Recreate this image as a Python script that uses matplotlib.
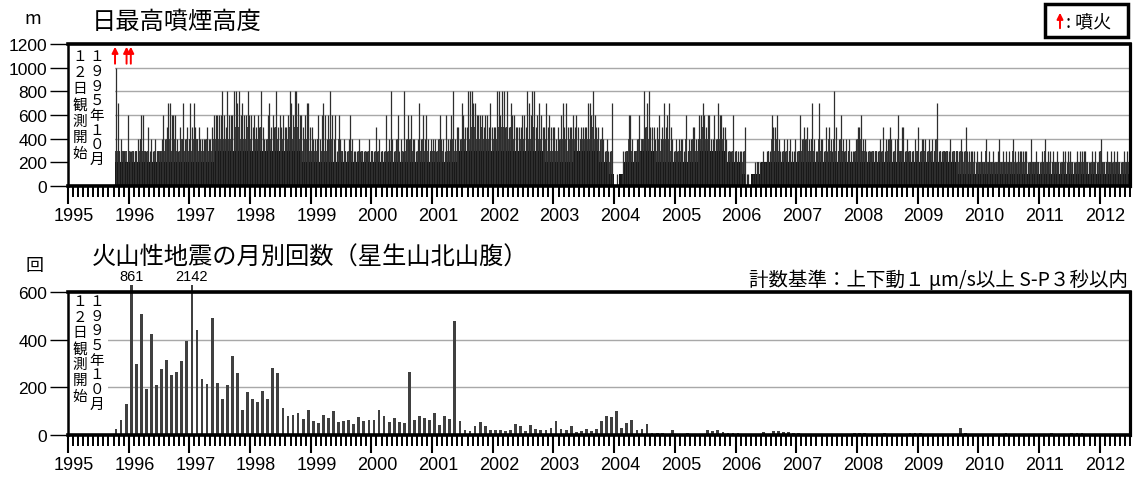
import numpy as np
import matplotlib
matplotlib.use('Agg')
import matplotlib.pyplot as plt
from matplotlib.patches import Rectangle, FancyArrowPatch
import matplotlib.transforms as mtransforms

plt.rcParams['font.family'] = ['Noto Sans CJK JP', 'DejaVu Sans']

# ---------------- data ----------------
first_year, first_month = 1995, 10          # observation start month
obs_start = 1995.78                         # 1995-10-12
eruptions = [1995.775, 1995.965, 1996.035]  # red arrows
years = list(range(1995, 2013))

# daily max plume height: highest value in each 10-day period (hex digit = x100 m), 3 per month
plume_peak = [
    "0a7 343 326",
    "333 334 466 335 343 433 346 457 766 643 547 454",
    "757 545 444 454 456 666 686 586 668 878 676 686",
    "656 565 854 467 565 856 565 568 768 876 656 775",
    "544 464 676 468 646 364 343 346 433 343 333 343",
    "335 343 336 348 434 634 384 646 443 474 646 434",
    "443 464 436 446 845 547 655 888 776 666 566 575",
    "558 868 858 576 655 556 658 768 856 765 575 655",
    "545 467 575 556 565 455 557 768 655 454 343 370",
    "010 013 336 643 346 348 578 555 456 457 567 543",
    "434 443 634 455 446 676 566 446 476 655 433 363",
    "333 335 110 012 222 232 333 655 643 343 434 334",
    "336 454 544 743 374 435 354 385 346 434 343 334",
    "556 443 333 333 343 534 454 343 635 534 333 343",
    "534 443 434 347 333 333 343 333 343 353 333 323",
    "232 242 323 223 423 232 324 323 333 332 242 232",
    "232 423 323 232 223 323 322 232 333 322 232 323",
    "422 232 323 232 223 232",
]
# frequent upper daily level in each 10-day period (x100 m)
plume_mid = [
    "033 323 332",
    "323 232 343 323 232 323 332 343 433 432 343 343",
    "434 343 333 343 334 444 454 434 443 545 444 454",
    "434 444 533 344 434 543 443 345 445 454 434 443",
    "333 342 343 334 423 242 323 233 322 232 323 232",
    "323 232 323 233 323 422 323 434 332 343 433 323",
    "332 343 324 334 433 434 443 545 454 445 444 443",
    "434 545 535 454 433 344 434 445 534 443 343 433",
    "333 344 443 434 443 344 434 445 434 343 232 230",
    "000 002 234 432 334 344 454 433 334 344 434 332",
    "323 332 423 343 334 454 444 334 344 443 323 232",
    "322 223 000 001 121 122 232 443 432 232 323 223",
    "234 343 433 432 243 323 243 243 234 323 232 223",
    "434 332 232 323 232 323 343 232 433 423 232 323",
    "323 332 323 234 232 323 232 323 232 232 222 212",
    "222 232 222 122 322 222 223 212 222 221 232 222",
    "122 322 212 222 122 212 221 122 222 221 122 212",
    "322 122 212 222 122 222",
]
# usual (dense) daily level per month (x100 m)
plume_base = [
    "222",
    "222222222222",
    "222223333333",
    "333333333322",
    "222222222222",
    "222222222222",
    "222223333333",
    "333333333322",
    "222233333221",
    "012223332222",
    "222223333322",
    "210112222222",
    "222222222222",
    "222222222222",
    "222222221111",
    "111111111111",
    "111111111111",
    "111111",
]

# monthly count of volcanic earthquakes
quake_counts = [
    [24, 64, 131],
    [861, 299, 507, 193, 424, 209, 277, 316, 251, 266, 310, 396],
    [2142, 439, 233, 216, 491, 219, 149, 209, 330, 259, 104, 179],
    [149, 140, 184, 149, 280, 260, 113, 81, 83, 94, 66, 103],
    [59, 50, 86, 71, 99, 54, 59, 64, 46, 77, 60, 64],
    [64, 103, 79, 54, 71, 54, 50, 266, 64, 81, 73, 64],
    [93, 41, 79, 69, 477, 60, 21, 16, 37, 54, 36, 22],
    [22, 19, 15, 20, 47, 38, 16, 41, 25, 22, 22, 28],
    [60, 26, 22, 38, 13, 18, 26, 16, 26, 60, 80, 74],
    [99, 30, 50, 61, 22, 26, 47, 10, 10, 10, 6, 20],
    [2, 4, 7, 4, 2, 2, 20, 16, 20, 13, 7, 7],
    [7, 2, 2, 2, 2, 12, 2, 15, 16, 13, 13, 7],
    [7, 3, 0, 0, 0, 0, 6, 0, 0, 0, 6, 8],
    [8, 8, 6, 0, 0, 7, 0, 0, 5, 0, 7, 8],
    [8, 0, 0, 6, 0, 4, 0, 4, 28, 9, 0, 0],
    [0, 0, 0, 0, 4, 7, 5, 0, 0, 0, 0, 6],
    [6, 4, 7, 4, 4, 6, 8, 8, 9, 5, 0, 0],
    [0, 0, 0, 0, 0, 0],
]

title1 = "日最高噴煙高度"
title2 = "火山性地震の月別回数（星生山北山腹）"
criteria = "計数基準：上下動１ μm/s以上 S-P３秒以内"
col_left = "１２日観測開始"
col_right = "１９９５年１０月"

# ---------------- derived arrays ----------------
peak = np.array([int(c, 16) for s in plume_peak for c in s.replace(" ", "")]) * 100
mid = np.array([int(c) for s in plume_mid for c in s.replace(" ", "")]) * 100
base = np.array([int(c) for s in plume_base for c in s]) * 100
counts = np.array([v for row in quake_counts for v in row])
n_months = len(counts)
m_start = first_year + (first_month - 1 + np.arange(n_months)) / 12.0
dek_x = (m_start[:, None] + (np.arange(3)[None, :] + 0.5) / 36.0).ravel()

# ---------------- figure ----------------
W, H = 1133, 481
fig = plt.figure(figsize=(W / 100, H / 100), dpi=100)
ax1 = fig.add_axes([68 / W, 1 - 187 / H, 1062 / W, 142 / H])
ax2 = fig.add_axes([68 / W, 1 - 436 / H, 1062 / W, 143 / H])

label_shift = mtransforms.ScaledTranslation(6 / 100, 0, fig.dpi_scale_trans)


def style(ax, ymax, yticks):
    ax.set_xlim(1995, 2012.5)
    ax.set_ylim(0, ymax)
    ax.set_yticks(yticks)
    ax.set_xticks(years)
    ax.set_xticks([1995 + k / 12 for k in range(211)], minor=True)
    ax.tick_params(axis='x', which='major', length=13, width=1.5, pad=2, labelsize=13)
    ax.tick_params(axis='x', which='minor', length=8, width=1.4)
    ax.tick_params(axis='y', length=13, width=1.0, pad=2, labelsize=12.5)
    for s, lw in (('top', 2.6), ('right', 2.3), ('left', 1.8), ('bottom', 2.6)):
        ax.spines[s].set_linewidth(lw)
    ax.set_axisbelow(True)
    ax.grid(axis='y', color='#a8a8a8', lw=1.0)
    for lab in ax.get_xticklabels():
        lab.set_fontfamily(['Liberation Sans'])
        lab.set_transform(lab.get_transform() + label_shift)
    for lab in ax.get_yticklabels():
        lab.set_fontfamily(['Liberation Sans'])


def start_box(ax, x_end, ytop_frac, ybot_right, ybot_left):
    ax.add_patch(Rectangle((1995, 0), x_end - 1995, ax.get_ylim()[1],
                           facecolor='white', edgecolor='none', zorder=1))
    tr = mtransforms.blended_transform_factory(ax.transData, ax.transAxes)
    for chars, x, ybot in ((col_left, 1995.2, ybot_left), (col_right, 1995.48, ybot_right)):
        ys = np.linspace(ytop_frac, ybot, len(chars))
        for ch, y in zip(chars, ys):
            ax.text(x, y, ch, transform=tr, ha='center', va='center',
                    fontsize=10.5, zorder=5)


# ---- top chart: plume height ----
style(ax1, 1200, range(0, 1201, 200))
start_box(ax1, obs_start, 0.915, 0.19, 0.232)
left = np.maximum(m_start, obs_start)
width = m_start + 1 / 12 - left
dek_left = dek_x - 1 / 72
ok_mid = (mid > 0) & (dek_left >= obs_start - 1 / 72)
ax1.bar(np.maximum(dek_left[ok_mid], obs_start), mid[ok_mid], width=1 / 36, align='edge',
        color='#444444', lw=0, zorder=2.1)
ax1.bar(left, base, width=width, align='edge', color='#141414', lw=0, zorder=2.2)
ax1.vlines(dek_x[peak > 0], 0, peak[peak > 0], color='#2e2e2e', lw=0.9, zorder=2.4)
for ex in eruptions:
    ax1.add_patch(FancyArrowPatch((ex, 1010), (ex, 1200), arrowstyle='-|>',
                                  mutation_scale=9, color='red', lw=1.4,
                                  clip_on=False, zorder=6))

# ---- bottom chart: monthly earthquakes ----
style(ax2, 600, range(0, 601, 200))
start_box(ax2, 1995.66, 0.939, 0.217, 0.275)
shown = np.minimum(counts, 630)
ax2.bar(m_start + 1 / 24, shown, width=0.55 / 12, color='#404040', lw=0,
        zorder=2, clip_on=False)
for x, v, s in zip(m_start + 1 / 24, counts, shown):
    if v > 600:
        ax2.annotate(str(v), (x, s), xytext=(0, 1.5), textcoords='offset points',
                     ha='center', va='bottom', fontsize=10.5,
                     fontfamily=['Liberation Sans'], annotation_clip=False)

# ---- texts ----
fig.text(92 / W, 1 - 22 / H, title1, fontsize=17.5, va='center', ha='left')
fig.text(92 / W, 1 - 258 / H, title2, fontsize=17.5, va='center', ha='left')
fig.text(33 / W, 1 - 19 / H, "m", fontsize=13, va='center', ha='center')
fig.text(35 / W, 1 - 266 / H, "回", fontsize=13, va='center', ha='center')
fig.text(1128 / W, 1 - 280 / H, criteria, fontsize=14, va='center', ha='right')

# legend box
fig.patches.append(Rectangle((1045 / W, 1 - 38 / H), 83 / W, 33 / H, transform=fig.transFigure,
                             fill=False, edgecolor='black', lw=2.5))
fig.patches.append(FancyArrowPatch((1060 / W, 1 - 32 / H), (1060 / W, 1 - 11 / H),
                                   transform=fig.transFigure, arrowstyle='-|>',
                                   mutation_scale=9, color='red', lw=1.4))
fig.text(1066 / W, 1 - 22 / H, ": 噴火", fontsize=13, va='center', ha='left')

fig.savefig('out.png', dpi=100)
